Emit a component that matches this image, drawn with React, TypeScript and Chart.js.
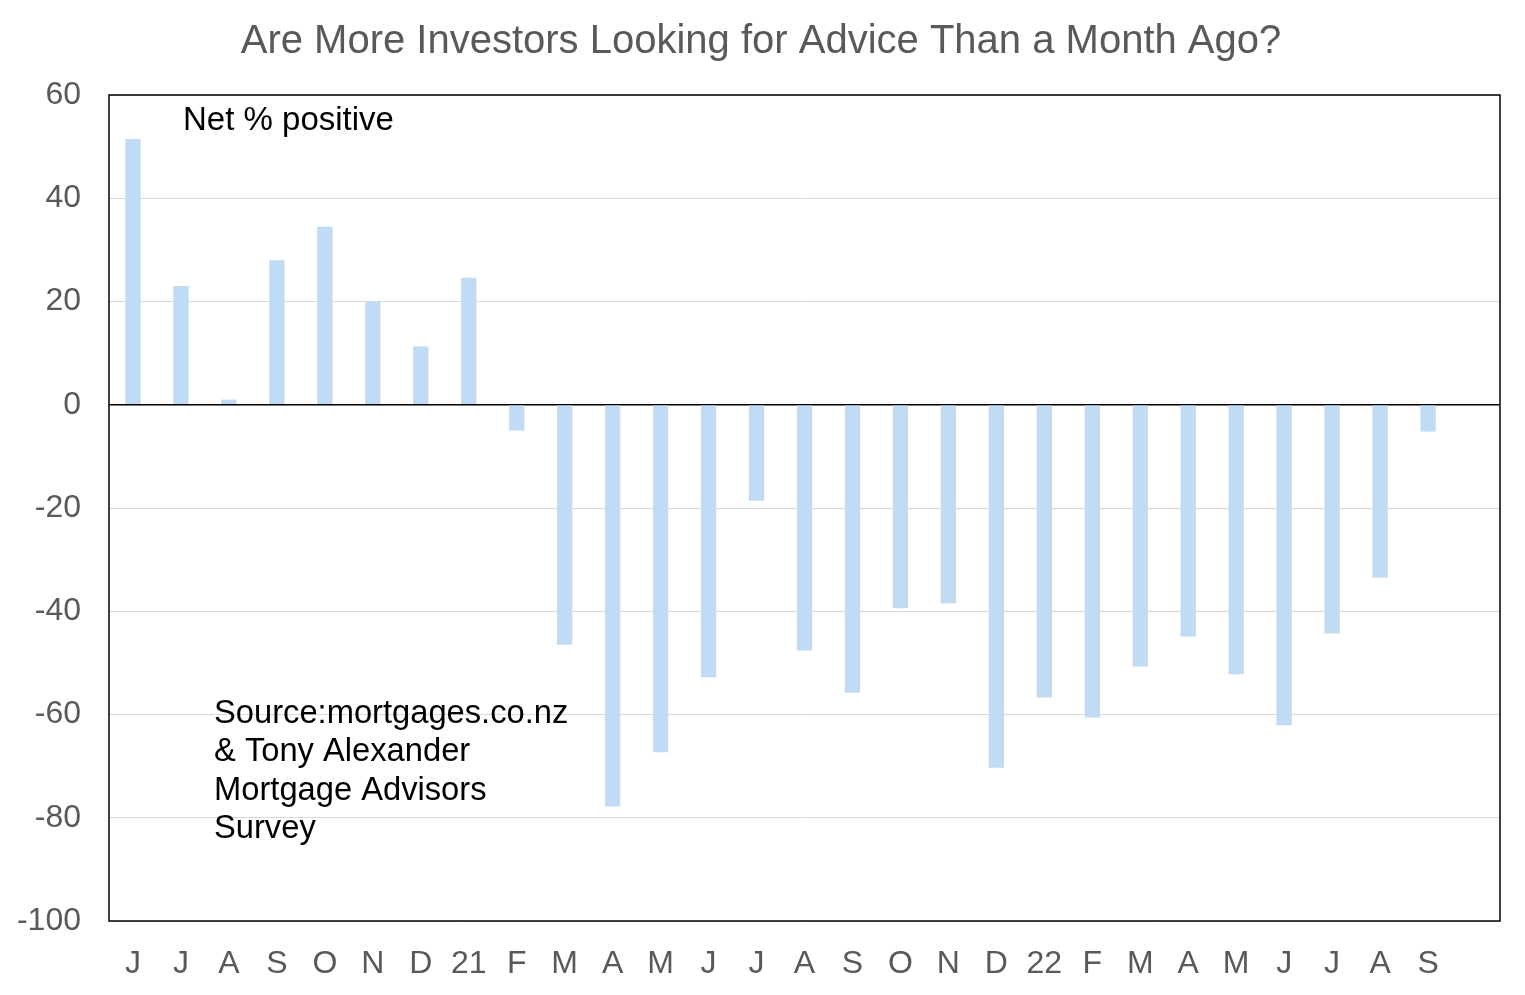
import React, { useEffect, useRef } from "react";
import { Chart, registerables } from "chart.js";

Chart.register(...registerables);

const categories = ["J", "J", "A", "S", "O", "N", "D", "21", "F", "M", "A", "M", "J", "J", "A", "S", "O", "N", "D", "22", "F", "M", "A", "M", "J", "J", "A", "S", ""];
const netPositive: (number | null)[] = [51.5, 23, 1, 28, 34.5, 20, 11.3, 24.6, -5, -46.5, -77.8, -67.3, -52.8, -18.6, -47.6, -55.8, -39.4, -38.5, -70.3, -56.7, -60.6, -50.7, -44.9, -52.2, -62.1, -44.3, -33.5, -5.2, null];
const yMin = -100;
const yMax = 60;
const yStep = 20;

const titleText = "Are More Investors Looking for Advice Than a Month Ago?";
const seriesNote = "Net % positive";
const sourceLines = ["Source:mortgages.co.nz", "& Tony Alexander", "Mortgage Advisors", "Survey"];

const FONT = "'Liberation Sans', Arial, sans-serif";

export default function App() {
  const ref = useRef<HTMLCanvasElement | null>(null);

  useEffect(() => {
    if (!ref.current) return;
    const overlay = {
      id: "overlay",
      afterDraw(chart: any) {
        const ctx = chart.ctx;
        const a = chart.chartArea;
        ctx.save();
        ctx.strokeStyle = "#000";
        ctx.lineWidth = 1.5;
        ctx.strokeRect(a.left, a.top, a.right - a.left, a.bottom - a.top);
        ctx.fillStyle = "#595959";
        ctx.font = `40px ${FONT}`;
        ctx.textAlign = "center";
        ctx.textBaseline = "alphabetic";
        ctx.fillText(titleText, 761, 53);
        ctx.fillStyle = "#000";
        ctx.textAlign = "left";
        ctx.font = `33px ${FONT}`;
        ctx.fillText(seriesNote, 183, 130);
        ctx.font = `32.7px ${FONT}`;
        sourceLines.forEach((l, i) => ctx.fillText(l, 214, 723 + i * 38.3));
        ctx.restore();
      },
    };
    const chart = new Chart(ref.current, {
      type: "bar",
      data: {
        labels: categories,
        datasets: [
          {
            data: netPositive,
            backgroundColor: "#C0DBF4",
            borderWidth: 0,
            barPercentage: 0.32,
            categoryPercentage: 1,
          },
        ],
      },
      options: {
        animation: false,
        responsive: false,
        maintainAspectRatio: false,
        layout: { padding: { top: 95, right: 25, left: 0, bottom: 0 } },
        plugins: { legend: { display: false }, tooltip: { enabled: false }, title: { display: false } },
        scales: {
          x: {
            offset: true,
            grid: { display: false, drawTicks: false },
            border: { display: false },
            ticks: { color: "#595959", font: { family: FONT, size: 32 }, padding: 24, maxRotation: 0, autoSkip: false },
            afterFit: (s: any) => { s.height = 74; },
          },
          y: {
            min: yMin,
            max: yMax,
            grid: {
              drawTicks: false,
              color: (c: any) => (c.tick && c.tick.value === 0 ? "#000" : "#D9D9D9"),
              lineWidth: (c: any) => (c.tick && c.tick.value === 0 ? 1.5 : 1),
            },
            border: { display: false },
            ticks: { stepSize: yStep, color: "#595959", font: { family: FONT, size: 32 }, padding: 28 },
            afterFit: (s: any) => { s.width = 109; },
          },
        },
      },
      plugins: [overlay],
    });
    return () => chart.destroy();
  }, []);

  return (
    <div style={{ position: "fixed", left: 0, top: 0, width: 1525, height: 995, background: "#fff" }}>
      <canvas ref={ref} width={1525} height={995} style={{ display: "block" }} />
    </div>
  );
}
